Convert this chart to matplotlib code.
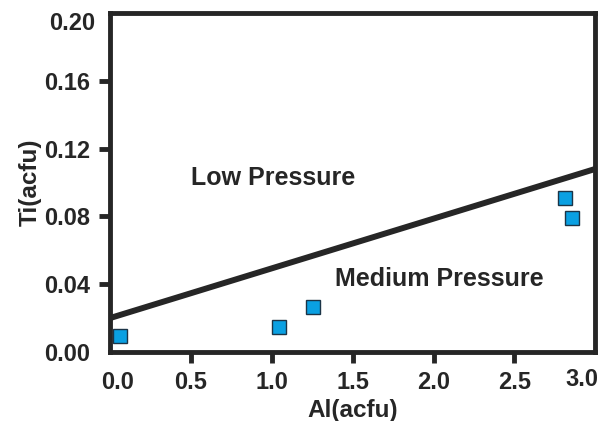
import matplotlib
matplotlib.use("Agg")
import matplotlib.pyplot as plt
from matplotlib.transforms import ScaledTranslation

al = [0.062, 1.045, 1.255, 2.814, 2.857]
ti = [0.0094, 0.0147, 0.0265, 0.0909, 0.0791]

boundary_x = [0.0, 3.0]
boundary_y = [0.020, 0.108]

x_ticks = [0.0, 0.5, 1.0, 1.5, 2.0, 2.5, 3.0]
x_labels = ["0.0", "0.5", "1.0", "1.5", "2.0", "2.5", "3.0"]
y_ticks = [0.00, 0.04, 0.08, 0.12, 0.16, 0.20]
y_labels = ["0.00", "0.04", "0.08", "0.12", "0.16", "0.20"]

dark = "#262626"
plt.rcParams["font.family"] = ["Liberation Sans", "DejaVu Sans"]
plt.rcParams["font.weight"] = "bold"

fig = plt.figure(figsize=(6.08, 4.21), dpi=100)
ax = fig.add_axes([0.181, 0.164, 0.798, 0.805])

ax.plot(boundary_x, boundary_y, color=dark, linewidth=4.3, solid_capstyle="butt", zorder=2)
ax.plot(al, ti, linestyle="none", marker="s", markersize=9.4,
        markerfacecolor="#0aa0e2", markeredgecolor="#1b3447", markeredgewidth=1.0, zorder=3)

ax.text(1.01, 0.1027, "Low Pressure", fontsize=18, fontweight="bold", color=dark, ha="center", va="center")
ax.text(2.035, 0.043, "Medium Pressure", fontsize=18, fontweight="bold", color=dark, ha="center", va="center")

ax.set_xlim(0, 3)
ax.set_ylim(0, 0.2)
ax.set_xticks(x_ticks)
ax.set_xticklabels(x_labels)
ax.set_yticks(y_ticks)
ax.set_yticklabels(y_labels)
ax.tick_params(direction="out", length=8, width=3.5, color=dark, labelsize=17,
               labelcolor=dark, pad=6)

for t in [ax.xaxis.get_major_ticks()[0], ax.xaxis.get_major_ticks()[-1],
          ax.yaxis.get_major_ticks()[0], ax.yaxis.get_major_ticks()[-1]]:
    t.tick1line.set_visible(False)

# nudge the corner labels inward like the original
xl = ax.get_xticklabels()
xl[0].set_transform(xl[0].get_transform() + ScaledTranslation(8 / 100, 0, fig.dpi_scale_trans))
xl[-1].set_horizontalalignment("right")
xl[-1].set_transform(xl[-1].get_transform() + ScaledTranslation(3 / 100, 3 / 100, fig.dpi_scale_trans))
yl = ax.get_yticklabels()
yl[-1].set_transform(yl[-1].get_transform() + ScaledTranslation(5 / 100, -8 / 100, fig.dpi_scale_trans))

for s in ax.spines.values():
    s.set_linewidth(3.5)
    s.set_color(dark)

ax.set_xlabel("Al(acfu)", fontsize=17.5, fontweight="bold", color=dark, labelpad=3)
ax.set_ylabel("Ti(acfu)", fontsize=17.5, fontweight="bold", color=dark, labelpad=2)

fig.savefig("out.png", dpi=100)
